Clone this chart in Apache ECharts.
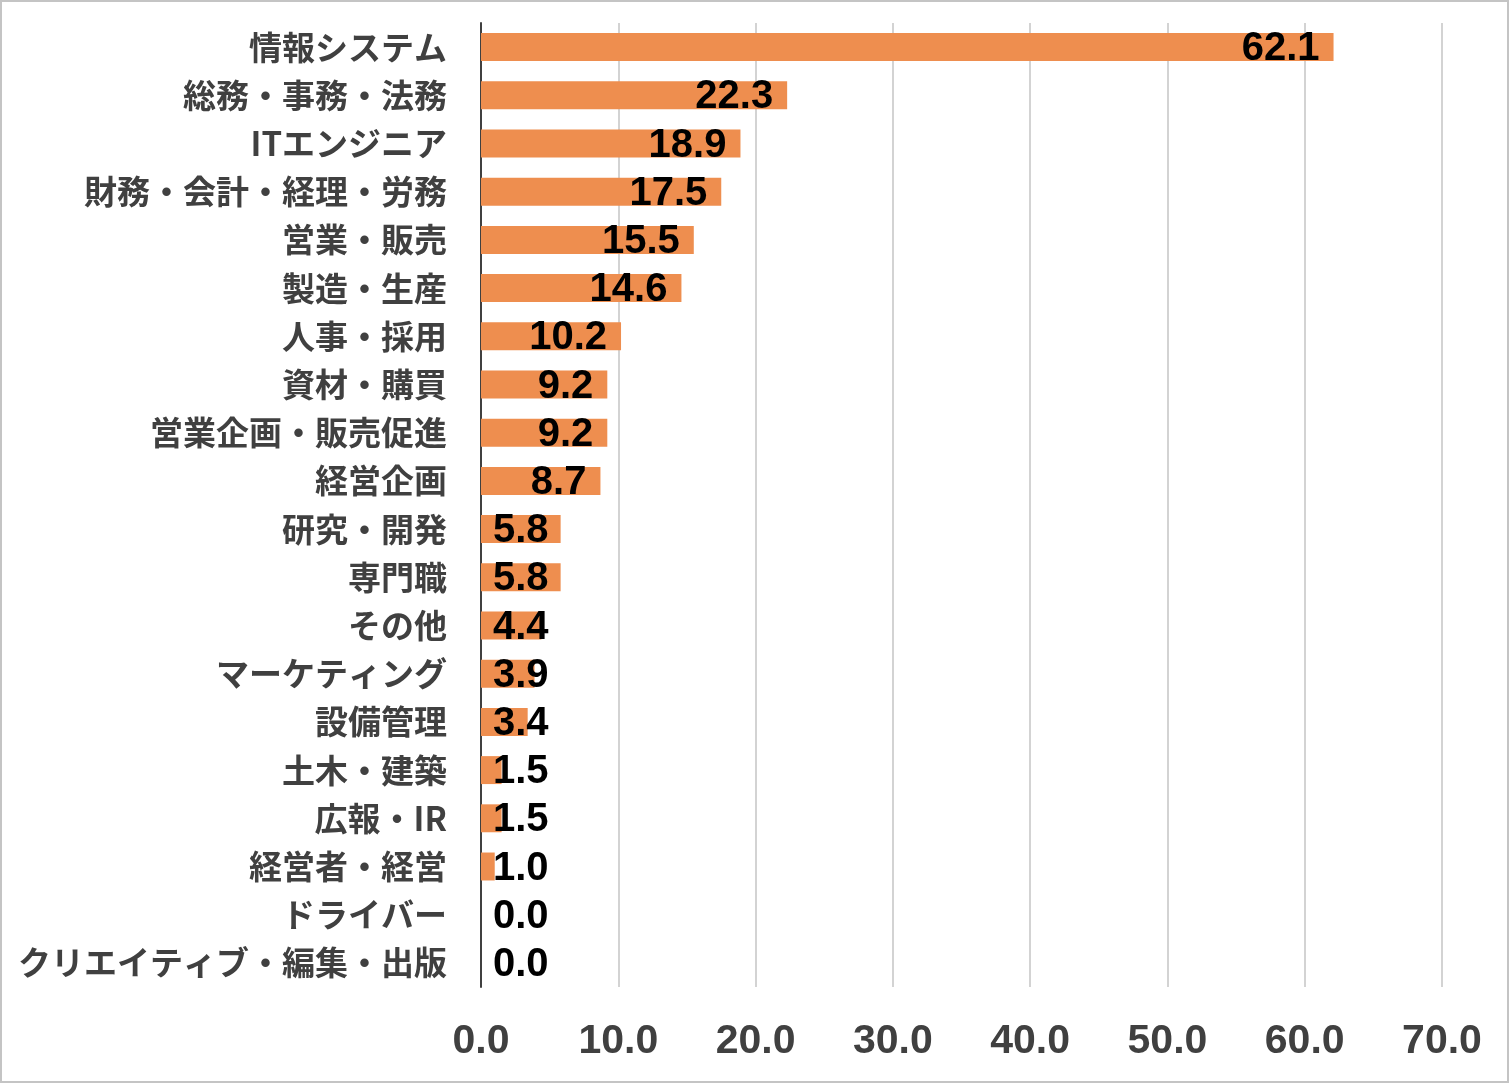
<!DOCTYPE html>
<html><head><meta charset="utf-8">
<script src="https://cdn.jsdelivr.net/npm/echarts@6/dist/echarts.min.js"></script>
<style>
html,body{margin:0;padding:0;background:#fff;}
#c{position:absolute;left:0;top:0;width:1509px;height:1083px;}
#b{position:absolute;left:0;top:0;width:1509px;height:1083px;box-sizing:border-box;border:2px solid #c4c4c4;pointer-events:none;}
</style></head>
<body><div id="c"></div><div id="b"></div>
<script>
const categories = ["情報システム","総務・事務・法務","ITエンジニア","財務・会計・経理・労務","営業・販売","製造・生産","人事・採用","資材・購買","営業企画・販売促進","経営企画","研究・開発","専門職","その他","マーケティング","設備管理","土木・建築","広報・IR","経営者・経営","ドライバー","クリエイティブ・編集・出版"];
const values = [62.1,22.3,18.9,17.5,15.5,14.6,10.2,9.2,9.2,8.7,5.8,5.8,4.4,3.9,3.4,1.5,1.5,1.0,0.0,0.0];
const xTicks = {min:0,max:70,interval:10};

const chart = echarts.init(document.getElementById('c'));
const labelFont = {fontFamily:'"Liberation Sans", Arial, sans-serif',fontWeight:'bold',fontSize:40,color:'#000',
  offset:[0,2], formatter:p=>Number(p.value).toFixed(1)};
const data = values.map(v => ({
  value: v,
  label: v > 5.8
    ? Object.assign({show:true, position:'insideRight', distance:14}, labelFont)
    : Object.assign({show:true, position:'insideLeft', distance:12}, labelFont)
}));
chart.setOption({
  animation:false,
  backgroundColor:'#fff',
  grid:{left:481,right:67,top:23,bottom:96,containLabel:false},
  xAxis:{type:'value',min:xTicks.min,max:xTicks.max,interval:xTicks.interval,
    axisLine:{show:false},axisTick:{show:false},
    splitLine:{show:true,lineStyle:{color:'#c4c4c4',width:1.5}},
    axisLabel:{formatter:v=>v.toFixed(1),color:'#404040',fontWeight:'bold',fontSize:41,
      fontFamily:'"Liberation Sans", Arial, sans-serif',margin:34}},
  yAxis:{type:'category',data:categories,inverse:true,
    axisLine:{show:true,lineStyle:{color:'#404040',width:2}},
    axisTick:{show:false},
    axisLabel:{color:'#404040',fontWeight:'bold',fontSize:33,margin:34,
      fontFamily:'"Noto Sans CJK JP", sans-serif'}},
  series:[{type:'bar',data:data,barCategoryGap:'42%',itemStyle:{color:'#EE8E4F'},z:2}]
});
</script></body></html>
